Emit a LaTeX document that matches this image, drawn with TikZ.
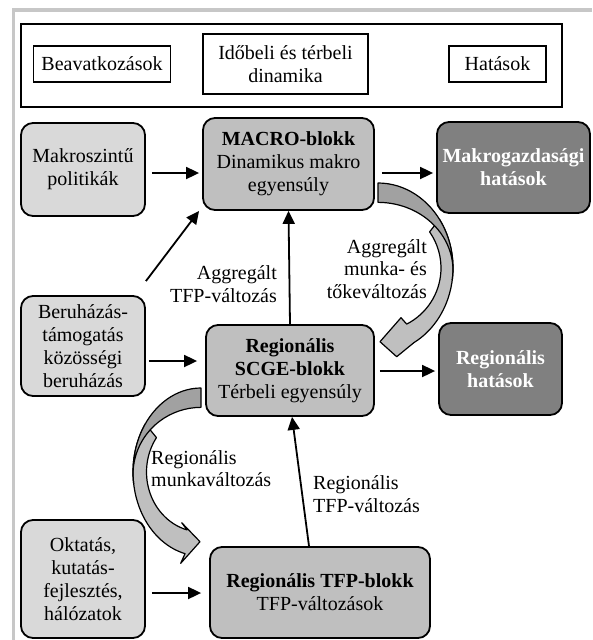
\documentclass[tikz,border=0pt]{standalone}
\usepackage{fontspec}
\setmainfont{Liberation Serif}
\usetikzlibrary{arrows.meta}
\definecolor{lightgrey}{gray}{0.85}
\definecolor{midgrey}{gray}{0.75}
\definecolor{darkgrey}{gray}{0.5}
\definecolor{framegrey}{gray}{0.78}
\definecolor{backgrey}{gray}{0.63}
\newcommand{\bx}{\fontsize{20}{23}\selectfont}
\newcommand{\lbl}{\fontsize{20}{22.5}\selectfont}

\tikzset{
  plainbox/.style={draw,line width=1.8pt,fill=white,inner sep=0pt,align=center,font=\bx},
  softbox/.style={draw,line width=1.8pt,rounded corners=12pt,inner sep=0pt,align=center,font=\bx},
  lightbox/.style={softbox,fill=lightgrey},
  midbox/.style={softbox,fill=midgrey},
  darkbox/.style={softbox,fill=darkgrey,text=white,font=\bx\bfseries},
  flow/.style={line width=1.8pt,-{Triangle[length=13pt,width=12pt]}},
  note/.style={inner sep=0pt,font=\lbl},
  bandback/.style={fill=backgrey,draw,line width=1.2pt,line join=round},
  bandfront/.style={fill=midgrey,draw,line width=1.2pt,line join=round}
}

\begin{document}
\begin{tikzpicture}[x=1pt,y=1pt]
   \useasboundingbox (0,0) rectangle (592,-640);
   \draw[framegrey,line width=3.5pt] (592,-10) -- (13.5,-10) -- (13.5,-640);

   % legend
   \node (legend) at (291.5,-65.5) [plainbox,minimum width=541pt,minimum height=83pt] {};
   \node (beav) at (102,-64) [plainbox,minimum width=137pt,minimum height=36pt] {Beavatkozások};
   \node (ido) at (285.5,-64) [plainbox,minimum width=165pt,minimum height=60pt] {Időbeli és térbeli\\dinamika};
   \node (hat) at (497.5,-64) [plainbox,minimum width=97pt,minimum height=36pt] {Hatások};

   % blocks
   \node (makro) at (83,-169.5) [lightbox,minimum width=124pt,minimum height=93pt] {Makroszintű\\politikák};
   \node (macro) at (288.5,-164) [midbox,minimum width=171pt,minimum height=92pt] {\textbf{MACRO-blokk}\\Dinamikus makro\\egyensúly};
   \node (makrog) at (513.5,-167.5) [darkbox,minimum width=153pt,minimum height=91pt] {Makrogazdasági\\hatások};
   \node (beruh) at (83,-346) [lightbox,minimum width=124pt,minimum height=100pt] {Beruházás-\\támogatás\\közösségi\\beruházás};
   \node (scge) at (290,-370.5) [midbox,minimum width=168pt,minimum height=91pt] {\textbf{Regionális}\\\textbf{SCGE-blokk}\\Térbeli egyensúly};
   \node (reghat) at (500.5,-369) [darkbox,minimum width=123pt,minimum height=92pt] {Regionális\\hatások};
   \node (okt) at (83,-579) [lightbox,minimum width=124pt,minimum height=118pt] {Oktatás,\\kutatás-\\fejlesztés,\\hálózatok};
   \node (tfp) at (320,-592.5) [midbox,minimum width=220pt,minimum height=91pt] {\textbf{Regionális TFP-blokk}\\TFP-változások};

   % labels
   \node (aggtfp) [note,anchor=east,align=right] at (277,-284) {Aggregált\\TFP-változás};
   \node (aggmunka) [note,anchor=east,align=right] at (427,-269) {Aggregált\\munka- és\\tőkeváltozás};
   \node (regmunka) [note,anchor=west,align=left] at (151,-468.5) {Regionális\\munkaváltozás};
   \node (regtfp) [note,anchor=west,align=left] at (313,-494) {Regionális\\TFP-változás};

   % arrows
   \draw[flow] ([xshift=6pt,yshift=-3.5pt]makro.east) -- ([xshift=-3pt,yshift=-9pt]macro.west);
   \draw[flow] ([xshift=7pt,yshift=-9pt]macro.east) -- ([xshift=-3pt,yshift=-5.5pt]makrog.west);
   \draw[flow] ([yshift=14pt]beruh.north east) -- ([xshift=-3pt]macro.south west);
   \draw[flow] (scge.north) -- (macro.south);
   \draw[flow] ([xshift=3pt,yshift=-15pt]beruh.east) -- ([xshift=-8pt,yshift=9.5pt]scge.west);
   \draw[flow] ([xshift=5pt,yshift=-0.5pt]scge.east) -- ([xshift=-3pt,yshift=-2pt]reghat.west);
   \draw[flow] ([xshift=6pt,yshift=-14pt]okt.east) -- ([xshift=-8pt,yshift=-0.5pt]tfp.west);
   \draw[flow] ([xshift=-11pt]tfp.north) -- ([xshift=2pt]scge.south);

   % curved block arrows
   \filldraw[bandfront] (378,-268) ++(35:75pt and 85pt) arc[start angle=35,end angle=-61.3,x radius=75pt,y radius=85pt]
      -- (396.7,-356.7) -- (380,-341.7) -- (401,-317.7) -- (406.7,-324.1)
      arc[start angle=-62.9,end angle=35,x radius=63pt,y radius=63pt] -- cycle;
   \filldraw[bandback] (378,-183) arc[start angle=90,end angle=-8,x radius=75pt,y radius=85pt]
      arc[start angle=-8,end angle=90,x radius=75pt,y radius=68pt] -- cycle;
   \filldraw[bandfront] (201,-472) ++(145:68pt and 84pt) arc[start angle=145,end angle=256.4,x radius=68pt,y radius=84pt]
      -- (180.7,-563.3) -- (200,-541.7) -- (181.7,-522.7) -- (187,-529.9)
      arc[start angle=254.7,end angle=145,x radius=55pt,y radius=60pt] -- cycle;
   \filldraw[bandback] (201,-388) arc[start angle=90,end angle=188,x radius=68pt,y radius=84pt]
      arc[start angle=188,end angle=90,x radius=68pt,y radius=67pt] -- cycle;
\end{tikzpicture}
\end{document}
